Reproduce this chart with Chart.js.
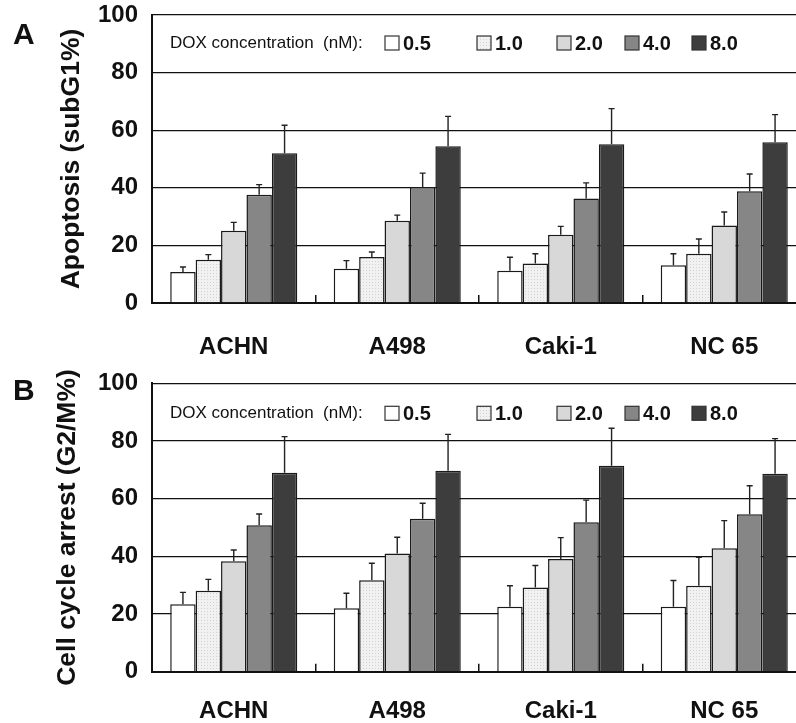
<!DOCTYPE html>
<html>
<head>
<meta charset="utf-8">
<script src="https://cdn.jsdelivr.net/npm/chart.js@4.4.1/dist/chart.umd.min.js"></script>
<style>
  html, body { margin: 0; padding: 0; background: #fff; }
  #wrap { position: relative; width: 796px; height: 723px; overflow: hidden; }
  canvas { position: absolute; left: 0; }
</style>
</head>
<body>
<div id="wrap">
  <canvas id="panelA" width="810" height="362" style="top:0"></canvas>
  <canvas id="panelB" width="810" height="361" style="top:362px"></canvas>
</div>
<script>
// categories and doses
const cellLines = ['ACHN', 'A498', 'Caki-1', 'NC 65'];
const doses = ['0.5', '1.0', '2.0', '4.0', '8.0'];
const yTicks = [0, 20, 40, 60, 80, 100];

// panel A: apoptosis (subG1 %), one row per dose, one value per cell line
const apoptosisMean = [
  [10.8, 11.9, 11.2, 13.1],
  [15.0, 16.0, 13.7, 17.1],
  [25.1, 28.6, 23.7, 26.9],
  [37.6, 40.3, 36.3, 38.8],
  [52.0, 54.4, 55.1, 55.8]
];
const apoptosisSD = [
  [1.7, 2.8, 4.7, 4.0],
  [1.8, 1.7, 3.4, 5.1],
  [2.9, 1.9, 2.9, 4.7],
  [3.5, 4.8, 5.4, 6.0],
  [9.7, 10.4, 12.4, 9.6]
];

// panel B: cell cycle arrest (G2/M %)
const arrestMean = [
  [23.4, 22.0, 22.5, 22.5],
  [28.1, 31.7, 29.2, 29.8],
  [38.3, 41.0, 39.1, 42.8],
  [50.8, 53.0, 51.8, 54.6],
  [69.0, 69.7, 71.4, 68.6]
];
const arrestSD = [
  [4.1, 5.2, 7.3, 9.1],
  [3.9, 5.9, 7.6, 9.9],
  [3.9, 5.6, 7.4, 9.6],
  [3.9, 5.4, 7.7, 9.9],
  [12.5, 12.6, 13.0, 12.2]
];

const FONT = "'Liberation Sans', Arial, sans-serif";

// light dotted fill for the 1.0 nM bars
function dotPattern() {
  const c = document.createElement('canvas');
  c.width = 3; c.height = 3;
  const g = c.getContext('2d');
  g.fillStyle = '#f1f1f1';
  g.fillRect(0, 0, 3, 3);
  g.fillStyle = '#d2d2d2';
  g.fillRect(0, 0, 1, 1);
  return g.createPattern(c, 'repeat');
}
const barColors = ['#ffffff', dotPattern(), '#d8d8d8', '#868686', '#3d3d3d'];

// upper error whiskers
const errorBars = {
  id: 'errorBars',
  afterDatasetsDraw(chart, args, opts) {
    const ctx = chart.ctx;
    const y = chart.scales.y;
    ctx.save();
    ctx.strokeStyle = '#222';
    ctx.lineWidth = 1.4;
    chart.data.datasets.forEach((ds, i) => {
      chart.getDatasetMeta(i).data.forEach((bar, j) => {
        const top = y.getPixelForValue(ds.data[j] + ds.sd[j]);
        ctx.beginPath();
        ctx.moveTo(bar.x, bar.y);
        ctx.lineTo(bar.x, top);
        ctx.moveTo(bar.x - 3, top);
        ctx.lineTo(bar.x + 3, top);
        ctx.stroke();
      });
    });
    ctx.restore();
  }
};

// legend row inside the plot and the panel letter
const panelDecor = {
  id: 'panelDecor',
  afterDraw(chart, args, opts) {
    const ctx = chart.ctx;
    const area = chart.chartArea;
    const cy = area.top + opts.legendY;
    ctx.save();
    ctx.fillStyle = '#111';
    ctx.textBaseline = 'middle';
    ctx.font = '17px ' + FONT;
    ctx.fillText('DOX concentration  (nM):', area.left + 18, cy);
    const boxX = [233, 325, 405, 473, 540];
    chart.data.datasets.forEach((ds, i) => {
      const x = area.left + boxX[i];
      ctx.fillStyle = ds.backgroundColor;
      ctx.fillRect(x, cy - 7, 14, 14);
      ctx.strokeStyle = '#333';
      ctx.lineWidth = 1.2;
      ctx.strokeRect(x, cy - 7, 14, 14);
      ctx.fillStyle = '#111';
      ctx.font = 'bold 20px ' + FONT;
      ctx.fillText(ds.label, x + 18, cy + 1);
    });
    ctx.font = 'bold 30px ' + FONT;
    ctx.textBaseline = 'top';
    ctx.fillText(opts.letter, 13, opts.letterTop);
    ctx.restore();
  }
};

function makePanel(id, means, sds, title, p) {
  new Chart(document.getElementById(id), {
    type: 'bar',
    data: {
      labels: cellLines,
      datasets: doses.map((d, i) => ({
        label: d,
        data: means[i],
        sd: sds[i],
        backgroundColor: barColors[i],
        borderColor: '#1a1a1a',
        borderWidth: 1.5,
        barPercentage: 1.0,
        categoryPercentage: 0.777
      }))
    },
    options: {
      responsive: false,
      animation: false,
      devicePixelRatio: 1,
      layout: { padding: { top: p.top, right: 4, left: 0, bottom: 0 } },
      plugins: {
        legend: { display: false },
        tooltip: { enabled: false },
        panelDecor: { letter: p.letter, letterTop: p.letterTop, legendY: p.legendY }
      },
      scales: {
        x: {
          afterFit: s => { s.height = p.xHeight; },
          grid: { display: true, drawOnChartArea: false, offset: true, tickLength: -8, tickColor: '#111', lineWidth: 1.5 },
          border: { display: true, color: '#111', width: 2 },
          ticks: { color: '#111', padding: p.labelPad, font: { family: FONT, size: 24, weight: 'bold' } }
        },
        y: {
          min: yTicks[0],
          max: yTicks[yTicks.length - 1],
          afterFit: s => { s.width = 152; s.paddingTop = 0; s.paddingBottom = 0; },
          afterBuildTicks: s => { s.ticks = yTicks.map(v => ({ value: v })); },
          grid: { color: '#111', lineWidth: 1.3, drawTicks: false },
          border: { display: true, color: '#111', width: 2 },
          ticks: { color: '#111', padding: 14, font: { family: FONT, size: 24, weight: 'bold' } },
          title: {
            display: true,
            text: title,
            color: '#111',
            padding: { top: p.titlePad, bottom: 0 },
            font: { family: FONT, size: 26.5, weight: 'bold' }
          }
        }
      }
    },
    plugins: [errorBars, panelDecor]
  });
}

makePanel('panelA', apoptosisMean, apoptosisSD, 'Apoptosis (subG1%)',
  { top: 15, xHeight: 59, labelPad: 37.5, titlePad: 56, letter: 'A', letterTop: 21, legendY: 28 });
makePanel('panelB', arrestMean, arrestSD, 'Cell cycle arrest (G2/M%)',
  { top: 21.3, xHeight: 51.3, labelPad: 33.3, titlePad: 52, letter: 'B', letterTop: 15, legendY: 30 });
</script>
</body>
</html>
